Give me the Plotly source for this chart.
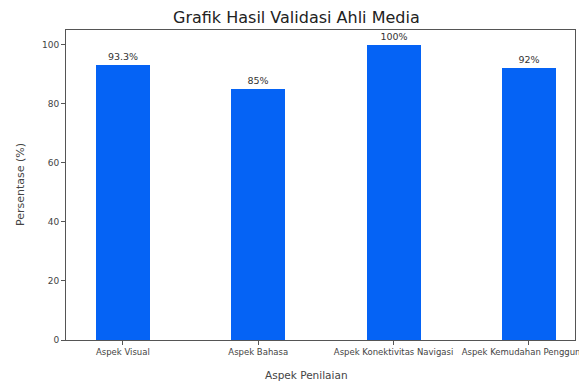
import plotly.graph_objects as go

categories = ["Aspek Visual", "Aspek Bahasa", "Aspek Konektivitas Navigasi", "Aspek Kemudahan Penggunaan"]
values = [93.3, 85, 100, 92]
value_labels = ["93.3%", "85%", "100%", "92%"]
y_ticks = [0, 20, 40, 60, 80, 100]

fig = go.Figure()
fig.add_trace(go.Bar(
    x=list(range(len(categories))),
    y=values,
    width=0.4,
    marker=dict(color="#0563F5", line=dict(width=0)),
    text=value_labels,
    textposition="outside",
    textfont=dict(size=9.5, color="#333333", family="DejaVu Sans"),
    cliponaxis=False,
))

fig.update_layout(
    width=579, height=383,
    margin=dict(l=66, r=4, t=30, b=43),
    paper_bgcolor="white", plot_bgcolor="white",
    font=dict(family="DejaVu Sans", color="#333333"),
    showlegend=False,
    bargap=0,
    xaxis=dict(
        range=[-0.42, 3.34],
        tickmode="array", tickvals=list(range(len(categories))), ticktext=categories,
        tickfont=dict(size=8.5, color="#444444"),
        ticklabeloverflow="allow",
        showline=True, mirror=True, linecolor="#555555", linewidth=1,
        ticks="outside", ticklen=4, tickcolor="#555555",
        showgrid=False, zeroline=False, automargin=False,
    ),
    yaxis=dict(
        range=[0, 105],
        tickmode="array", tickvals=y_ticks,
        tickfont=dict(size=9, color="#444444"),
        showline=True, mirror=True, linecolor="#555555", linewidth=1,
        ticks="outside", ticklen=4, tickcolor="#555555",
        showgrid=False, zeroline=False, automargin=False,
    ),
    annotations=[
        dict(text="Grafik Hasil Validasi Ahli Media", xref="paper", yref="paper",
             x=(296 - 66) / 509, y=1 + 12 / 310, xanchor="center", yanchor="middle",
             showarrow=False, font=dict(size=16, color="#222222")),
        dict(text="Aspek Penilaian", xref="paper", yref="paper",
             x=(306 - 66) / 509, y=-35 / 310, xanchor="center", yanchor="middle",
             showarrow=False, font=dict(size=10.5, color="#444444")),
        dict(text="Persentase (%)", xref="paper", yref="paper",
             x=-46 / 509, y=0.5, xanchor="center", yanchor="middle", textangle=-90,
             showarrow=False, font=dict(size=11, color="#444444")),
    ],
)

fig.write_html("out.html", config={"displayModeBar": False},
               post_script="document.body.style.margin='0px';")
